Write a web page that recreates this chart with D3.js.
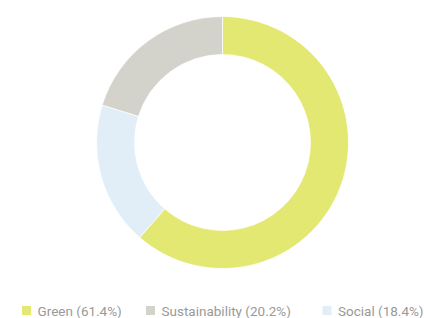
<!DOCTYPE html>
<html>
<head>
<meta charset="utf-8">
<script src="https://cdn.jsdelivr.net/npm/d3@7"></script>
<style>
  body { margin: 0; background: #fff; }
  svg { display: block; }
</style>
</head>
<body>
<div class="chart"></div>
<script>
var width = 424, height = 318;

// slices in drawing order (clockwise from 12 o'clock)
var categories = ['Green', 'Social', 'Sustainability'];
var values = [61.4, 18.4, 20.2];
var colors = ['#e3e872', '#e1eef7', '#d4d3cb'];

// legend order
var legendOrder = ['Green', 'Sustainability', 'Social'];

var data = categories.map(function (c, i) {
  return { name: c, value: values[i], color: colors[i] };
});

var svg = d3.select('.chart').append('svg')
  .attr('width', width)
  .attr('height', height);

var cx = 222.5, cy = 142.5,
  outerR = 126, innerR = 88;

var pie = d3.pie()
  .sort(null)
  .value(function (d) { return d.value; });

var arc = d3.arc()
  .innerRadius(innerR)
  .outerRadius(outerR);

svg.append('g')
  .attr('transform', 'translate(' + cx + ',' + cy + ')')
  .selectAll('path')
  .data(pie(data))
  .enter().append('path')
  .attr('d', arc)
  .attr('fill', function (d) { return d.data.color; })
  .attr('stroke', '#fff')
  .attr('stroke-width', 0.7);

// Legend
var byName = {};
data.forEach(function (d) { byName[d.name] = d; });

var legendX = [22, 146, 322.5];

var items = svg.append('g').attr('class', 'legend')
  .selectAll('g')
  .data(legendOrder.map(function (n) { return byName[n]; }))
  .enter().append('g')
  .attr('transform', function (d, i) { return 'translate(' + legendX[i] + ',315.5)'; });

items.append('rect')
  .attr('width', 9)
  .attr('height', 9)
  .attr('y', -9.5)
  .attr('fill', function (d) { return d.color; });

items.append('text')
  .attr('x', 15.5)
  .attr('y', 0)
  .attr('fill', '#9a9a9a')
  .style('font-family', 'Roboto, sans-serif')
  .style('font-size', '13.5px')
  .text(function (d) { return d.name + ' (' + d.value.toFixed(1) + '%)'; });
</script>
</body>
</html>
